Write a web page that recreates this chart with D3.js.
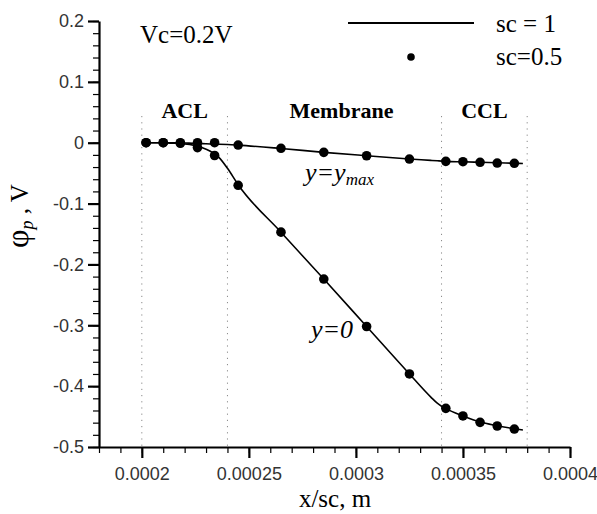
<!DOCTYPE html>
<html>
<head>
<meta charset="utf-8">
<script src="https://cdn.jsdelivr.net/npm/d3@7"></script>
<style>
  body { margin: 0; background: #fff; }
  svg { display: block; }
</style>
</head>
<body>
<script>
// chart data
var lineX = [0.0002, 0.000204, 0.000208, 0.000212, 0.000216, 0.00022, 0.000224, 0.000228, 0.000232, 0.000236, 0.00024, 0.000245, 0.000265, 0.000285, 0.000305, 0.000325, 0.000335, 0.000338, 0.00034, 0.000342, 0.00035, 0.000358, 0.000366, 0.000374, 0.000378];
var lineY0 = [0, 0, 0, -0.0005, -0.001, -0.002, -0.004, -0.008, -0.014, -0.024, -0.042, -0.069, -0.147, -0.224, -0.302, -0.380, -0.418, -0.428, -0.433, -0.437, -0.449, -0.459, -0.465, -0.470, -0.472];
var lineYmax = [0, 0, 0, 0, 0, -0.0005, -0.001, -0.0015, -0.002, -0.0025, -0.003, -0.004, -0.0095, -0.0158, -0.0214, -0.0268, -0.029, -0.0297, -0.0302, -0.0306, -0.0314, -0.0322, -0.033, -0.0338, -0.0342];

var dotX = [0.000202, 0.00021, 0.000218, 0.000226, 0.000234, 0.000245, 0.000265, 0.000285, 0.000305, 0.000325, 0.000342, 0.00035, 0.000358, 0.000366, 0.000374];
var dotY0 = [0, 0, -0.001, -0.008, -0.021, -0.07, -0.147, -0.224, -0.302, -0.380, -0.4365, -0.449, -0.4595, -0.4655, -0.4705];
var dotYmax = [0, 0, 0, 0, 0, -0.0038, -0.0092, -0.0158, -0.0214, -0.0268, -0.0306, -0.0312, -0.0322, -0.0334, -0.0338];

var xMajor = [0.0002, 0.00025, 0.0003, 0.00035, 0.0004];
var xTickLabels = ["0.0002", "0.00025", "0.0003", "0.00035", "0.0004"];
var yMajor = [0.2, 0.1, 0, -0.1, -0.2, -0.3, -0.4, -0.5];
var regionEdges = [0.0002, 0.00024, 0.00034, 0.00038];
var regionNames = ["ACL", "Membrane", "CCL"];

var width = 597, height = 514;
var plotLeft = 99, plotRight = 570, plotTop = 21, plotBottom = 447;

var svg = d3.select("body").append("svg").attr("width", width).attr("height", height);

var x = d3.scaleLinear().domain([0.00018, 0.0004]).range([plotLeft, plotRight]);
var y = d3.scaleLinear().domain([-0.5, 0.2]).range([plotBottom, plotTop]);

var serif = "'Liberation Serif', 'Times New Roman', serif";
var sans = "'Liberation Sans', Arial, sans-serif";

// minor ticks
var xMinor = d3.range(0, 23).map(function(i){ return 0.00018 + i * 0.00001; });
var yMinor = d3.range(0, 36).map(function(i){ return -0.5 + i * 0.02; });

svg.append("g").attr("transform", "translate(0," + plotBottom + ")")
  .call(d3.axisBottom(x).tickValues(xMinor).tickSize(6).tickFormat(""))
  .call(function(g){ g.select(".domain").remove(); g.selectAll("line").attr("stroke-width", 1.2); });
svg.append("g").attr("transform", "translate(" + plotLeft + ",0)")
  .call(d3.axisLeft(y).tickValues(yMinor).tickSize(6).tickFormat(""))
  .call(function(g){ g.select(".domain").remove(); g.selectAll("line").attr("stroke-width", 1.2); });

// dotted region boundaries
svg.append("g").selectAll("line").data(regionEdges).enter().append("line")
  .attr("x1", function(d){ return x(d); }).attr("x2", function(d){ return x(d); })
  .attr("y1", 116).attr("y2", plotBottom)
  .attr("stroke", "#8a8a8a").attr("stroke-width", 1).attr("stroke-dasharray", "1.2,5");

// major axes
var xAxis = svg.append("g").attr("transform", "translate(0," + plotBottom + ")")
  .call(d3.axisBottom(x).tickValues(xMajor).tickSize(11).tickSizeOuter(0).tickPadding(6)
    .tickFormat(function(d, i){ return xTickLabels[i]; }));
var yAxis = svg.append("g").attr("transform", "translate(" + plotLeft + ",0)")
  .call(d3.axisLeft(y).tickValues(yMajor).tickSize(11).tickSizeOuter(0).tickPadding(4)
    .tickFormat(function(d){ return String(+d.toFixed(1)); }));
[xAxis, yAxis].forEach(function(g){
  g.attr("font-family", sans).attr("font-size", 18);
  g.select(".domain").attr("stroke-width", 2.2);
  g.selectAll(".tick line").attr("stroke-width", 2.2);
  g.selectAll("text").attr("fill", "#333");
});
xAxis.selectAll("text").attr("dy", "0.9em");

// region labels
svg.append("g").selectAll("text").data(regionNames).enter().append("text")
  .attr("x", function(d, i){ return (x(regionEdges[i]) + x(regionEdges[i + 1])) / 2 + (i === 1 ? 7 : 0); })
  .attr("y", 118)
  .attr("text-anchor", "middle")
  .attr("font-family", serif).attr("font-weight", "bold").attr("font-size", 22)
  .text(function(d){ return d; });

// sc = 1 lines
var line = d3.line()
  .x(function(d){ return x(d[0]); })
  .y(function(d){ return y(d[1]); })
  .curve(d3.curveMonotoneX);
[lineY0, lineYmax].forEach(function(vals){
  svg.append("path")
    .datum(lineX.map(function(v, i){ return [v, vals[i]]; }))
    .attr("d", line)
    .attr("fill", "none").attr("stroke", "#000").attr("stroke-width", 1.6);
});

// sc = 0.5 points
[dotY0, dotYmax].forEach(function(vals){
  svg.append("g").selectAll("circle")
    .data(dotX.map(function(v, i){ return [v, vals[i]]; }))
    .enter().append("circle")
    .attr("cx", function(d){ return x(d[0]); })
    .attr("cy", function(d){ return y(d[1]); })
    .attr("r", 4.8).attr("fill", "#000");
});

// curve labels
var lab1 = svg.append("text").attr("x", 305).attr("y", 181)
  .attr("font-family", serif).attr("font-style", "italic").attr("font-size", 26);
lab1.append("tspan").text("y=y");
lab1.append("tspan").attr("font-size", 17).attr("dy", 4).text("max");

svg.append("text").attr("x", 311).attr("y", 338)
  .attr("font-family", serif).attr("font-style", "italic").attr("font-size", 26)
  .text("y=0");

// Vc note
svg.append("text").attr("x", 140).attr("y", 43)
  .attr("font-family", serif).attr("font-size", 25).text("Vc=0.2V");

// legend
svg.append("line").attr("x1", 348).attr("x2", 474).attr("y1", 23).attr("y2", 23)
  .attr("stroke", "#000").attr("stroke-width", 2);
svg.append("circle").attr("cx", 411).attr("cy", 57).attr("r", 3.8).attr("fill", "#000");
svg.append("text").attr("x", 496).attr("y", 32)
  .attr("font-family", serif).attr("font-size", 25).text("sc = 1");
svg.append("text").attr("x", 496).attr("y", 65)
  .attr("font-family", serif).attr("font-size", 25).text("sc=0.5");

// axis titles
svg.append("text").attr("x", 335).attr("y", 507).attr("text-anchor", "middle")
  .attr("font-family", serif).attr("font-size", 25).text("x/sc, m");

var yt = svg.append("text").attr("transform", "translate(28,216) rotate(-90)")
  .attr("text-anchor", "middle").attr("font-family", serif).attr("font-size", 25);
yt.append("tspan").attr("font-size", 32).text("φ");
yt.append("tspan").attr("font-style", "italic").attr("font-size", 18).attr("dy", 5).text("p");
yt.append("tspan").attr("dy", -5).text(" , V");
</script>
</body>
</html>
